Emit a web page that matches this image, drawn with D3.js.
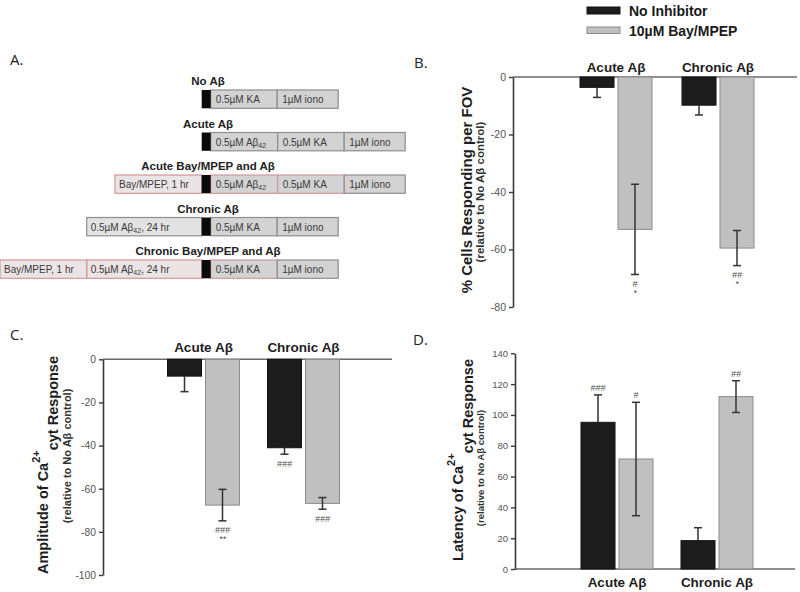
<!DOCTYPE html>
<html><head><meta charset="utf-8">
<script src="https://cdn.jsdelivr.net/npm/d3@7"></script>
<style>
html,body{margin:0;padding:0;background:#fff;}
svg{display:block;font-family:"Liberation Sans",Arial,sans-serif;}
</style></head>
<body>
<svg id="chart" width="800" height="592"></svg>
<script>
// ---------- DATA ----------
const categories = ["Acute Aβ", "Chronic Aβ"];
const seriesNames = ["No Inhibitor", "10µM Bay/MPEP"];

// Panel B: % cells responding per FOV
const cellsNoInh = [-3.6, -9.8];
const cellsNoInhErr = [3.5, 3.4];
const cellsBay = [-53.0, -59.5];
const cellsBayErr = [15.7, 6.1];
const cellsNoInhSig = ["", ""];
const cellsBaySig = ["#|*", "##|*"];
const cellsTicks = [0, -20, -40, -60, -80];

// Panel C: amplitude
const ampNoInh = [-7.8, -41.0];
const ampNoInhErr = [7.2, 3.0];
const ampBay = [-67.6, -66.8];
const ampBayErr = [7.3, 2.7];
const ampNoInhSig = ["", "###"];
const ampBaySig = ["###|**", "###"];
const ampTicks = [0, -20, -40, -60, -80, -100];

// Panel D: latency
const latNoInh = [95.2, 18.4];
const latNoInhErr = [17.8, 8.4];
const latBay = [71.4, 111.9];
const latBayErr = [36.8, 10.3];
const latNoInhSig = ["###", ""];
const latBaySig = ["#", "##"];
const latTicks = [0, 20, 40, 60, 80, 100, 120, 140];

// Panel A: protocols
const protocolNames = ["No Aβ", "Acute Aβ", "Acute Bay/MPEP and Aβ", "Chronic  Aβ", "Chronic Bay/MPEP and Aβ"];
const protocolPre = [[], [], ["Bay/MPEP, 1 hr"], ["0.5µM Aβ42, 24 hr"], ["Bay/MPEP, 1 hr", "0.5µM Aβ42, 24 hr"]];
const protocolPost = [
  ["0.5µM KA", "1µM iono"],
  ["0.5µM Aβ42", "0.5µM KA", "1µM iono"],
  ["0.5µM Aβ42", "0.5µM KA", "1µM iono"],
  ["0.5µM KA", "1µM iono"],
  ["0.5µM KA", "1µM iono"]
];
const protocolInhibitor = [false, false, true, false, true];

// ---------- STYLE ----------
const svg = d3.select("#chart");
const barFill = ["#1c1c1c", "#c0c0c0"];
const barStroke = ["#111", "#8c8c8c"];
const axisColor = "#3a3a3a";
const tickColor = "#555";

// Panel letters
[["A.", 10, 65], ["B.", 414, 68], ["C.", 10, 340], ["D.", 413, 345]].forEach(([t, x, y]) => {
  svg.append("text").attr("x", x).attr("y", y).attr("font-family", "'Open Sans',sans-serif")
    .attr("font-size", 15).attr("fill", "#222").text(t);
});

// Legend
const legend = svg.append("g");
seriesNames.forEach((s, i) => {
  const ly = [7, 27][i];
  legend.append("rect").attr("x", 587).attr("y", ly).attr("width", 33).attr("height", i ? 6.5 : 7)
    .attr("fill", barFill[i]).attr("stroke", barStroke[i]).attr("stroke-width", 1);
  legend.append("text").attr("x", 629).attr("y", [16, 35.5][i]).attr("font-size", 14)
    .attr("font-weight", "bold").attr("fill", "#1a1a1a").text(s);
});

function drawPanel(cfg) {
  const g = svg.append("g");
  const y = d3.scaleLinear().domain(cfg.domain).range(cfg.yRange);
  const x = d3.scaleBand().domain(categories).range(cfg.xRange).padding(0);
  const bw = x.bandwidth();
  const xs = d3.scaleBand().domain(seriesNames).range([bw / 2 - 36, bw / 2 + 36]).paddingInner(0.105);

  // zero / base line
  g.append("line").attr("x1", cfg.axisX).attr("x2", cfg.lineEnd)
    .attr("y1", y(0)).attr("y2", y(0)).attr("stroke", "#6a6a6a").attr("stroke-width", 1.5);

  const series = [
    {name: seriesNames[0], vals: cfg.v0, errs: cfg.e0, sig: cfg.s0, both: false},
    {name: seriesNames[1], vals: cfg.v1, errs: cfg.e1, sig: cfg.s1, both: true}
  ];
  series.forEach((s, si) => {
    categories.forEach((c, ci) => {
      const v = s.vals[ci], e = s.errs[ci];
      const x0 = x(c) + xs(s.name), w = xs.bandwidth(), cx = x0 + w / 2;
      g.append("rect").attr("x", x0).attr("width", w)
        .attr("y", Math.min(y(0), y(v))).attr("height", Math.abs(y(v) - y(0)))
        .attr("fill", barFill[si]).attr("stroke", barStroke[si]).attr("stroke-width", 1);
      const sign = v < 0 ? -1 : 1;
      const outer = v + sign * e;
      const inner = s.both ? v - sign * e : v;
      g.append("line").attr("x1", cx).attr("x2", cx).attr("y1", y(inner)).attr("y2", y(outer))
        .attr("stroke", "#333").attr("stroke-width", 1.5);
      const caps = s.both ? [outer, inner] : [outer];
      caps.forEach(cv => g.append("line").attr("x1", cx - 4).attr("x2", cx + 4)
        .attr("y1", y(cv)).attr("y2", y(cv)).attr("stroke", "#333").attr("stroke-width", 1.5));
      // significance marks
      if (s.sig[ci]) {
        const lines = s.sig[ci].split("|");
        lines.forEach((t, li) => {
          const ty = v < 0 ? y(outer) + 12.5 + li * 9 : y(outer) - 4 - (lines.length - 1 - li) * 9;
          g.append("text").attr("x", cx).attr("y", ty).attr("text-anchor", "middle")
            .attr("font-size", 9).attr("font-style", "italic").attr("fill", "#505050").text(t);
        });
      }
    });
  });

  // y axis
  const ax = g.append("g").attr("transform", `translate(${cfg.axisX},0)`)
    .call(d3.axisLeft(y).tickValues(cfg.ticks).tickSize(4).tickSizeOuter(0).tickPadding(3).tickFormat(d3.format("d")));
  ax.select(".domain").attr("stroke", axisColor).attr("stroke-width", 1.6);
  ax.selectAll(".tick line").attr("stroke", axisColor).attr("stroke-width", 1.4);
  ax.selectAll(".tick text").attr("fill", tickColor).attr("font-size", cfg.tickFont)
    .attr("font-family", "'Liberation Sans',Arial,sans-serif").text(d => d < 0 ? "-" + Math.abs(d) : d);

  // category labels
  categories.forEach(c => {
    g.append("text").attr("x", x(c) + bw / 2).attr("y", cfg.catY).attr("text-anchor", "middle")
      .attr("font-size", 13.5).attr("font-weight", "bold").attr("fill", "#1e1e1e").text(c);
  });

  // y titles
  const t1 = g.append("text").attr("transform", `translate(${cfg.titleX},${cfg.titleY}) rotate(-90)`)
    .attr("text-anchor", "middle").attr("font-weight", "bold").attr("font-size", cfg.titleFont).attr("fill", "#1e1e1e");
  if (cfg.titleSup) {
    t1.append("tspan").text(cfg.title[0]);
    t1.append("tspan").attr("dy", -8).attr("font-size", 11).text(cfg.titleSup);
    t1.append("tspan").attr("dy", 18).text(cfg.title[1]);
  } else {
    t1.text(cfg.title[0]);
  }
  g.append("text").attr("transform", `translate(${cfg.subX},${cfg.subY}) rotate(-90)`)
    .attr("text-anchor", "middle").attr("font-weight", "bold").attr("font-size", cfg.subFont)
    .attr("fill", "#333").text("(relative to No Aβ control)");
}

drawPanel({
  domain: [-80, 0], yRange: [307, 77], xRange: [565, 769], axisX: 513, lineEnd: 797,
  v0: cellsNoInh, e0: cellsNoInhErr, s0: cellsNoInhSig, v1: cellsBay, e1: cellsBayErr, s1: cellsBaySig,
  ticks: cellsTicks, tickFont: 10.5, catY: 71.5,
  title: ["% Cells Responding per FOV"], titleX: 472, titleY: 190, titleFont: 15,
  subX: 484, subY: 192, subFont: 11.5
});

drawPanel({
  domain: [-100, 0], yRange: [575, 359.3], xRange: [153.5, 353.5], axisX: 103, lineEnd: 392,
  v0: ampNoInh, e0: ampNoInhErr, s0: ampNoInhSig, v1: ampBay, e1: ampBayErr, s1: ampBaySig,
  ticks: ampTicks, tickFont: 10.3, catY: 352,
  title: ["Amplitude of Ca", "cyt Response"], titleSup: "2+", titleX: 48, titleY: 465, titleFont: 14.5,
  subX: 71, subY: 456, subFont: 11
});

drawPanel({
  domain: [0, 140], yRange: [569, 353.3], xRange: [567, 767], axisX: 515, lineEnd: 795,
  v0: latNoInh, e0: latNoInhErr, s0: latNoInhSig, v1: latBay, e1: latBayErr, s1: latBaySig,
  ticks: latTicks, tickFont: 9.5, catY: 587,
  title: ["Latency of Ca", "cyt Response"], titleSup: "2+", titleX: 463, titleY: 460, titleFont: 14.5,
  subX: 483.5, subY: 468, subFont: 9.5
});

// ---------- PANEL A ----------
const segWidth = {"Bay/MPEP, 1 hr": 86.7, "0.5µM Aβ42, 24 hr": 115, "0.5µM Aβ42": 67, "0.5µM KA": 66.5, "1µM iono": 61};
const markerX = 201.7, markerW = 9, boxH = 18.3;
const rowY = d3.scalePoint().domain(protocolNames).range([90, 260]);
const pa = svg.append("g");

function segText(sel, label) {
  const parts = label.split("Aβ42");
  sel.append("tspan").text(parts[0] + (parts.length > 1 ? "Aβ" : ""));
  if (parts.length > 1) {
    sel.append("tspan").attr("font-size", 7).attr("dy", 2).text("42");
    sel.append("tspan").attr("dy", -2).text(parts[1]);
  }
}

protocolNames.forEach((name, ri) => {
  const ty = rowY(name);
  pa.append("text").attr("x", 208).attr("y", ty - 5).attr("text-anchor", "middle")
    .attr("font-size", 11.5).attr("font-weight", "bold").attr("fill", "#222").text(name.replace("  ", " "));
  const inh = protocolInhibitor[ri];
  let xr = markerX;
  const pre = protocolPre[ri].slice().reverse();
  pre.forEach(lbl => {
    const w = segWidth[lbl];
    xr -= w;
    pa.append("rect").attr("x", xr).attr("y", ty).attr("width", w).attr("height", boxH)
      .attr("fill", inh ? "#ebe4e4" : "#e2e2e2").attr("stroke", inh ? "#d49696" : "#8e8e8e").attr("stroke-width", 1.2);
    const t = pa.append("text").attr("x", xr + 4).attr("y", ty + 13).attr("font-size", 10).attr("fill", "#3a3a3a");
    segText(t, lbl);
  });
  let xp = markerX + markerW;
  protocolPost[ri].forEach(lbl => {
    const w = segWidth[lbl];
    const red = inh && lbl !== "1µM iono";
    pa.append("rect").attr("x", xp).attr("y", ty).attr("width", w).attr("height", boxH)
      .attr("fill", "#d3d3d3").attr("stroke", red ? "#cf9a9a" : "#8e8e8e").attr("stroke-width", 1.2);
    const t = pa.append("text").attr("x", xp + 5).attr("y", ty + 13).attr("font-size", 10).attr("fill", "#3a3a3a");
    segText(t, lbl);
    xp += w;
  });
  pa.append("rect").attr("x", markerX).attr("y", ty).attr("width", markerW).attr("height", boxH).attr("fill", "#0a0a0a");
});
</script>
</body></html>
